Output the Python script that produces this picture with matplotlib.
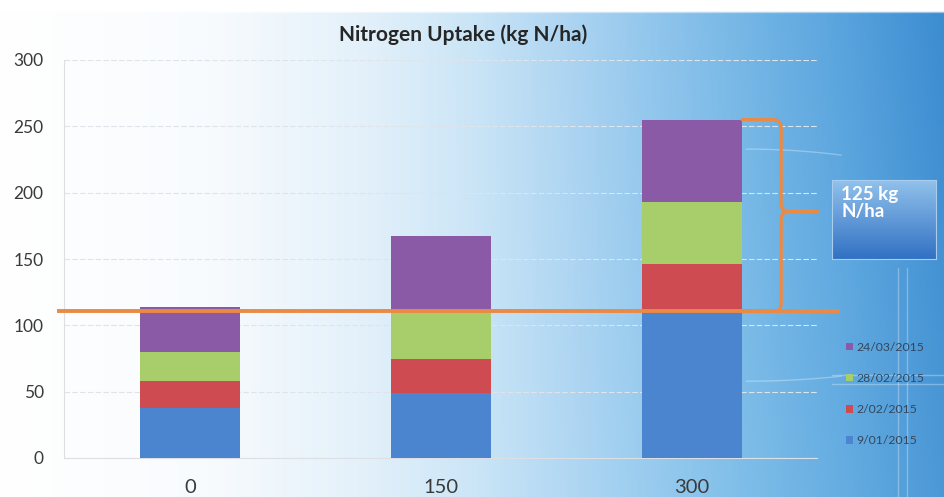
import numpy as np
import matplotlib
matplotlib.use("Agg")
import matplotlib.pyplot as plt
from matplotlib.path import Path
from matplotlib.patches import PathPatch

# ---- data -------------------------------------------------------------
rates = ["0", "150", "300"]                       # N rate (kg N/ha)
dates = ["9/01/2015", "2/02/2015", "28/02/2015", "24/03/2015"]
uptake_0901 = [38, 49, 111]
uptake_0202 = [20, 26, 35]
uptake_2802 = [22, 36, 47]
uptake_2403 = [34, 56, 62]
baseline_uptake = 110.5
gain_label = "125 kg\nN/ha"
y_ticks = [0, 50, 100, 150, 200, 250, 300]

series = [uptake_0901, uptake_0202, uptake_2802, uptake_2403]
colors = ["#4b84cf", "#cf4b52", "#a8cd6b", "#8a5aa7"]

plt.rcParams["font.family"] = ["Lato", "DejaVu Sans"]

W, H = 945, 497
fig = plt.figure(figsize=(W / 100, H / 100), dpi=100)

# ---- background: white to blue wash -----------------------------------
bg = fig.add_axes([0, 0, 1, 1])
xs = np.linspace(0, 1, 400)
ys = np.linspace(0, 1, 200)
px = np.array([0.0, 0.22, 0.38, 0.50, 0.60, 0.70, 0.80, 0.90, 1.0])
r = np.interp(xs, px, [255, 248, 228, 204, 178, 150, 124, 100, 76])
g = np.interp(xs, px, [255, 251, 241, 230, 216, 202, 188, 172, 152])
b = np.interp(xs, px, [255, 254, 250, 247, 243, 238, 232, 225, 214])
img = np.stack([r, g, b], axis=-1)[None, :, :].repeat(len(ys), axis=0)
# slightly deeper blue toward the top on the right-hand side
shade = (1 - ys)[:, None] * np.clip((xs - 0.45) / 0.55, 0, 1)[None, :]
img = img - shade[..., None] * np.array([16, 12, 5])
img[:5, :, :] = 255  # thin white strip along the top edge
bg.imshow(np.clip(img, 0, 255).astype(np.uint8), aspect="auto",
          extent=[0, 1, 0, 1], origin="upper", interpolation="bilinear")
# faint light road-like strokes in the backdrop
road = dict(color="white", alpha=0.3, lw=1.0, transform=bg.transAxes)
bg.plot([0.950, 0.950], [0.0, 0.46], **road)
bg.plot([0.960, 0.960], [0.0, 0.46], **road)
bg.plot([0.88, 1.0], [0.245, 0.245], **road)
bg.plot([0.88, 1.0], [0.228, 0.228], **road)
tt = np.linspace(0, 1, 50)
bg.plot(0.79 + 0.10 * tt, 0.70 - 0.012 * tt ** 2, **road)
bg.plot(0.79 + 0.10 * tt, 0.233 + 0.01 * tt ** 2, **road)
bg.set_xlim(0, 1)
bg.set_ylim(0, 1)
bg.axis("off")

# ---- main axes ---------------------------------------------------------
ax = fig.add_axes([64.5 / W, (H - 458) / H, 753 / W, 398 / H])
ax.set_facecolor("none")

x = np.arange(len(rates))
bottom = np.zeros(len(rates))
bars = []
for vals, col, lab in zip(series, colors, dates):
    bc = ax.bar(x, vals, width=0.4, bottom=bottom, color=col, label=lab,
                zorder=3, linewidth=0)
    bars.append(bc)
    bottom = bottom + np.array(vals)
totals = bottom

ax.set_xlim(-0.5, 2.5)
ax.set_ylim(0, 300)
ax.set_yticks(y_ticks)
ax.set_xticks(x)
ax.set_xticklabels(rates)
ax.grid(axis="y", color="#dfe4ea", linestyle=(0, (5, 2)), linewidth=0.8, zorder=0)
for s in ["top", "right"]:
    ax.spines[s].set_visible(False)
for s in ["left", "bottom"]:
    ax.spines[s].set_color("#dcdfe3")
    ax.spines[s].set_linewidth(0.8)
ax.tick_params(axis="y", length=0, pad=15, labelsize=12.5, labelcolor="#3a3a3a")
ax.tick_params(axis="x", length=0, pad=15, labelsize=14.5, labelcolor="#3a3a3a")

ax.set_title("Nitrogen Uptake (kg N/ha)", fontsize=15, fontweight="bold",
             color="#262626", pad=14, x=0.53)

# ---- reference line at the unfertilised uptake -------------------------
ax.plot([-0.53, 2.59], [baseline_uptake, baseline_uptake], color="#ea8a45",
        lw=2.8, solid_capstyle="butt", zorder=5, clip_on=False)

# ---- curly bracket from the line up to the top of the 300 bar ----------
top = totals[2]
lo = baseline_uptake
mid = (top + lo) / 2 + 3
xe = x[2] + 0.2          # right edge of the bar
xv = xe + 0.155          # vertical stroke
xt = xe + 0.30           # tip
dx, dy = 0.03, 6
verts = [
    (xe, top), (xv - dx, top), (xv, top), (xv, top - dy),
    (xv, mid + dy), (xv, mid), (xv + dx, mid), (xt, mid),
]
codes = [Path.MOVETO, Path.LINETO, Path.CURVE3, Path.CURVE3,
         Path.LINETO, Path.CURVE3, Path.CURVE3, Path.LINETO]
verts2 = [
    (xv + dx, mid), (xv, mid), (xv, mid - dy),
    (xv, lo + dy), (xv, lo), (xv - dx, lo), (xe, lo),
]
codes2 = [Path.MOVETO, Path.CURVE3, Path.CURVE3,
          Path.LINETO, Path.CURVE3, Path.CURVE3, Path.LINETO]
for v, c in [(verts, codes), (verts2, codes2)]:
    ax.add_patch(PathPatch(Path(v, c), facecolor="none", edgecolor="#ea8a45",
                           lw=2.4, zorder=5, clip_on=False, capstyle="round"))

# ---- label box -----------------------------------------------------------
bx = fig.add_axes([832 / W, (H - 259) / H, 104 / W, 79 / H])
grad = np.linspace(0, 1, 100)[:, None]
top_c = np.array([146, 194, 236])
bot_c = np.array([50, 114, 196])
box_img = (top_c * (1 - grad) + bot_c * grad)[:, None, :].repeat(2, axis=1)
bx.imshow(box_img.astype(np.uint8), aspect="auto", extent=[0, 1, 0, 1],
          origin="upper")
bx.set_xlim(0, 1)
bx.set_ylim(0, 1)
bx.set_xticks([])
bx.set_yticks([])
for s in bx.spines.values():
    s.set_color("#a9cdee")
    s.set_linewidth(0.8)
bx.text(0.09, 0.93, gain_label, color="white", fontsize=13.5, fontweight="bold",
        va="top", ha="left", linespacing=1.0, transform=bx.transAxes)

# ---- legend ------------------------------------------------------------
handles = [b.patches[0] for b in bars][::-1]
labels = dates[::-1]
leg = fig.legend(handles, labels, loc="center left",
                 bbox_to_anchor=(846 / W, 1 - 394 / H), frameon=False,
                 fontsize=8.8, handlelength=0.6, handleheight=0.6,
                 handletextpad=0.25, labelspacing=1.65, borderpad=0,
                 borderaxespad=0)
for t in leg.get_texts():
    t.set_color("#34465c")

fig.savefig("out.png", dpi=100)
